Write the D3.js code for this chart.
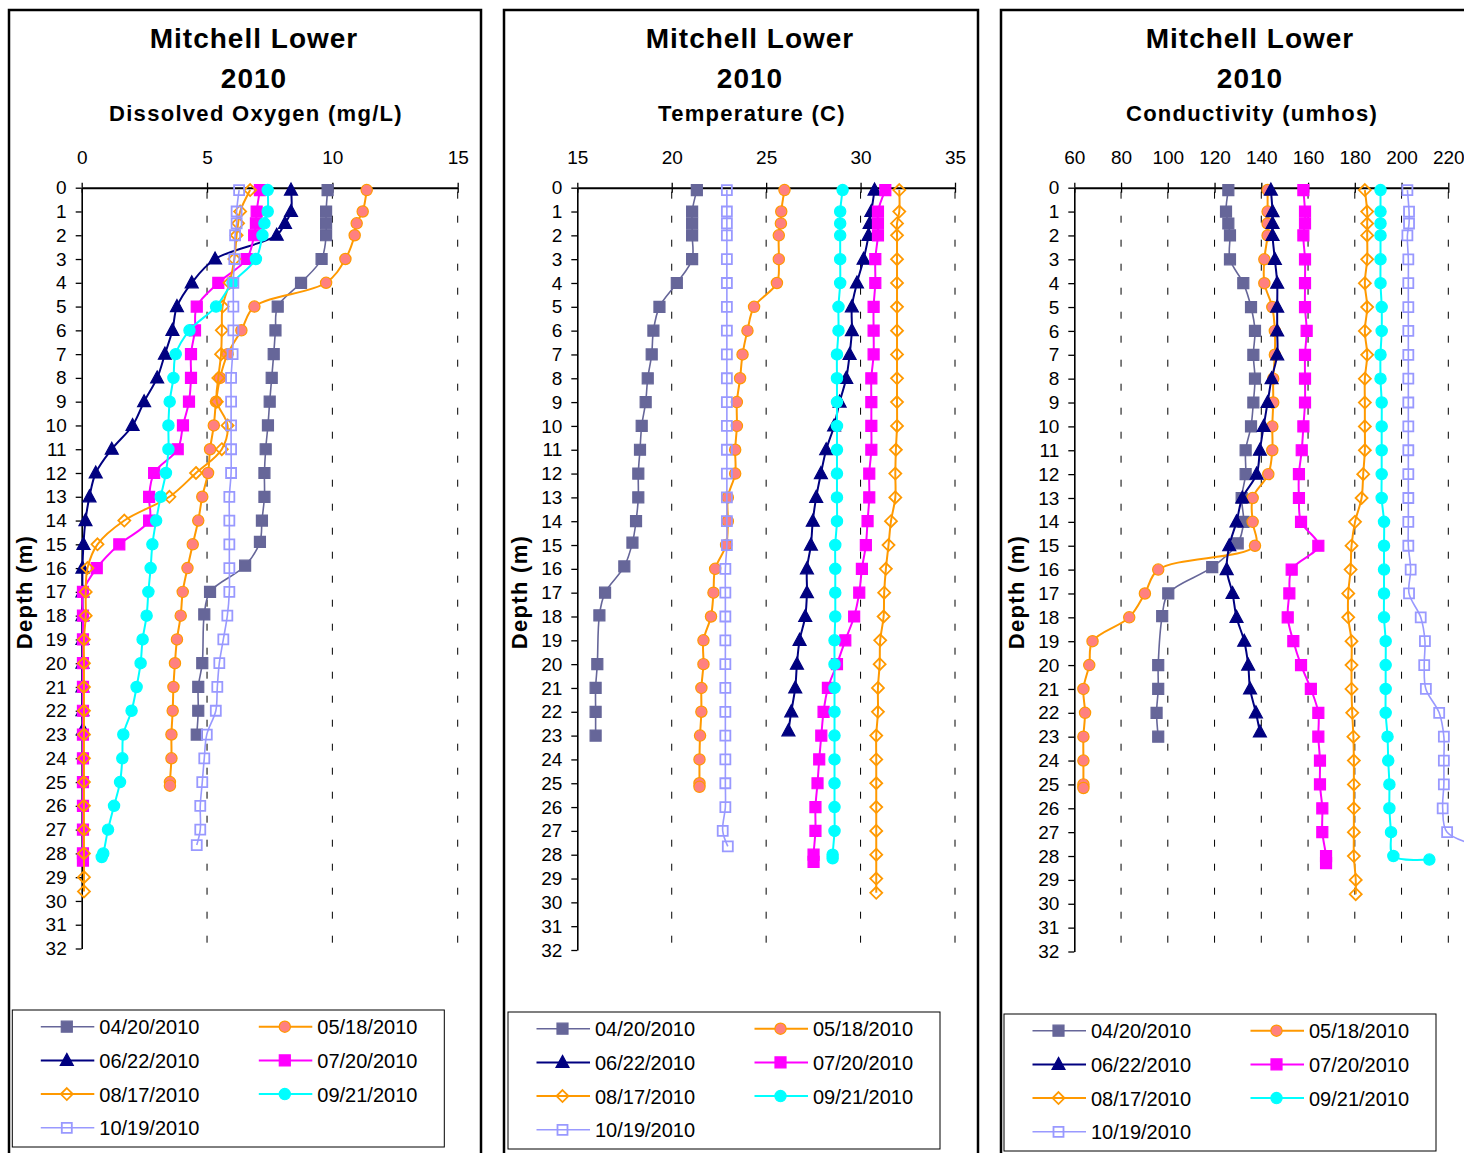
<!DOCTYPE html>
<html>
<head>
<meta charset="utf-8">
<title>Mitchell Lower 2010 profiles</title>
<script src="https://d3js.org/d3.v7.min.js"></script>
<style>
body { margin: 0; background: #fff; }
svg { display: block; font-family: "Liberation Sans", Arial, sans-serif; }
.title { font-weight: bold; font-size: 28px; letter-spacing: 1px; text-anchor: middle; }
.subtitle { font-weight: bold; font-size: 22px; letter-spacing: 1.3px; text-anchor: middle; }
.tick text { font-size: 19px; font-family: "Liberation Sans", Arial, sans-serif; }
.legend text { font-size: 20px; }
</style>
</head>
<body>
<script>
// sampling dates (one profile each)
var dates = ["04/20/2010", "05/18/2010", "06/22/2010", "07/20/2010", "08/17/2010", "09/21/2010", "10/19/2010"];

// depths (m) of each profile
var depth0420 = [0.1,1,1.5,2,3,4,5,6,7,8,9,10,11,12,13,14,14.9,15.9,17,17.95,20,21,22,23];
var depth0518 = [0.1,1,1.5,2,3,4,5,6,7,8,9,10,11,12,13,14,15,16,17,18,19,20,21,22,23,24,25,25.15];
var depth0622 = [0.1,1,1.5,2,3,4,5,6,7,8,9,10,11,12,13,14,15,16,17,18,19,20,21,22,22.8];
var depth0720 = [0.1,1,1.5,2,3,4,5,6,7,8,9,10,11,12,13,14,15,16,17,18,19,20,21,22,23,24,25,26,27,28,28.3];
var depth0817 = [0.1,1,1.5,2,3,4,5,6,7,8,9,10,11,12,13,14,15,16,17,18,19,20,21,22,23,24,25,26,27,28,29,29.6];
var depth0921 = [0.1,1,1.5,2,3,4,5,6,7,8,9,10,11,12,13,14,15,16,17,18,19,20,21,22,23,24,25,26,27,28,28.15];
var depth1019 = [0.1,1,1.5,2,3,4,5,6,7,8,9,10,11,12,13,14,15,16,17,18,19,20,21,22,23,24,25,26,27,27.65];
var depths = [depth0420, depth0518, depth0622, depth0720, depth0817, depth0921, depth1019];

// dissolved oxygen (mg/L)
var oxygen = [
  [9.81,9.75,9.75,9.75,9.57,8.75,7.82,7.73,7.66,7.58,7.5,7.43,7.34,7.29,7.29,7.19,7.11,6.52,5.12,4.89,4.81,4.65,4.65,4.59],
  [11.37,11.21,10.97,10.89,10.52,9.75,6.89,6.37,5.82,5.52,5.36,5.27,5.12,5.04,4.81,4.65,4.43,4.22,4.03,3.95,3.8,3.72,3.66,3.63,3.58,3.58,3.52,3.52],
  [8.35,8.35,8.11,7.78,5.32,4.39,3.8,3.62,3.32,3.01,2.49,2.03,1.2,0.56,0.31,0.15,0.07,0.03,0.03,0.03,0.03,0.03,0.03,0.03,0.05],
  [7.11,6.98,6.95,6.88,6.58,5.45,4.59,4.52,4.36,4.36,4.28,4.04,3.83,2.89,2.69,2.69,1.5,0.6,0.05,0.05,0.05,0.05,0.05,0.05,0.05,0.05,0.05,0.05,0.05,0.05,0.05],
  [6.72,6.32,6.24,6.18,6.09,5.9,5.62,5.59,5.56,5.45,5.39,5.82,5.59,4.56,3.5,1.7,0.63,0.23,0.16,0.16,0.09,0.09,0.09,0.09,0.09,0.09,0.09,0.09,0.09,0.09,0.09,0.09],
  [7.42,7.42,7.29,7.21,6.95,6.02,5.36,4.3,3.75,3.66,3.51,3.46,3.46,3.36,3.15,2.97,2.82,2.75,2.66,2.59,2.43,2.35,2.19,1.99,1.66,1.62,1.53,1.29,1.05,0.86,0.8],
  [6.28,6.18,6.18,6.12,6.09,6.05,6.05,6.05,6.02,5.96,5.96,5.96,5.96,5.96,5.89,5.89,5.89,5.89,5.89,5.81,5.65,5.49,5.41,5.35,4.99,4.89,4.81,4.73,4.73,4.59]
];

// temperature (C)
var temperature = [
  [21.33,21.08,21.08,21.08,21.08,20.27,19.35,19.03,18.94,18.73,18.62,18.41,18.32,18.23,18.23,18.11,17.92,17.49,16.47,16.17,16.06,15.97,15.97,15.97],
  [25.97,25.8,25.78,25.67,25.67,25.57,24.36,24.01,23.75,23.62,23.45,23.45,23.36,23.36,22.97,22.97,22.88,22.3,22.21,22.08,21.68,21.68,21.57,21.57,21.5,21.47,21.47,21.47],
  [30.74,30.57,30.48,30.42,30.16,29.81,29.54,29.54,29.42,29.24,28.89,28.6,28.18,27.9,27.65,27.47,27.37,27.16,27.16,27.07,26.77,26.63,26.54,26.33,26.18],
  [31.31,30.92,30.92,30.92,30.78,30.78,30.69,30.69,30.69,30.57,30.57,30.57,30.57,30.46,30.46,30.37,30.28,30.07,29.93,29.66,29.19,28.75,28.27,28.04,27.92,27.81,27.72,27.61,27.61,27.51,27.51],
  [32.05,32.05,31.93,31.93,31.93,31.93,31.93,31.93,31.93,31.93,31.93,31.93,31.87,31.84,31.84,31.61,31.48,31.34,31.25,31.22,31.04,31.01,30.92,30.92,30.83,30.83,30.83,30.83,30.83,30.83,30.83,30.83],
  [29.05,28.92,28.92,28.92,28.92,28.92,28.83,28.83,28.75,28.75,28.75,28.75,28.75,28.75,28.75,28.75,28.66,28.66,28.66,28.66,28.62,28.62,28.62,28.62,28.62,28.62,28.62,28.62,28.62,28.52,28.52],
  [22.92,22.92,22.92,22.92,22.92,22.92,22.92,22.92,22.92,22.92,22.92,22.92,22.92,22.92,22.92,22.92,22.92,22.84,22.84,22.84,22.84,22.84,22.84,22.84,22.84,22.84,22.84,22.84,22.7,22.97]
];

// conductivity (umhos)
var conductivity = [
  [125.9,124.9,125.9,126.6,126.6,132.3,135.6,137.3,136.6,137.3,136.6,135.6,133.3,133.3,131.6,132.4,129.9,119.0,100.2,97.6,95.9,95.9,95.2,95.9],
  [142.7,142.7,142.7,142.7,141.3,141.3,144.7,145.8,145.8,145.1,145.1,144.7,144.7,143.0,136.3,136.3,137.3,95.9,90.2,83.5,67.8,66.4,63.9,64.6,63.9,63.9,63.9,63.9],
  [144.1,144.8,144.8,144.8,145.8,146.8,146.8,146.8,146.8,144.4,142.7,141.0,139.4,138.0,131.9,129.4,126.3,125.2,127.7,129.4,132.7,134.4,135.2,137.7,139.4],
  [158.0,158.7,158.7,158.0,158.7,158.7,158.7,159.4,158.7,158.7,158.7,158.0,157.3,156.1,156.1,157.0,164.4,153.0,152.0,151.3,153.7,157.0,161.2,164.4,164.4,165.1,165.1,166.1,166.1,167.7,167.7],
  [184.3,185.3,185.3,185.3,185.3,184.3,185.3,184.3,185.3,184.3,184.3,184.3,184.3,183.6,182.9,180.1,178.6,178.2,177.2,177.2,178.6,178.6,178.6,178.9,179.4,179.6,179.6,179.6,179.6,179.6,180.4,180.4],
  [191.0,191.0,191.0,191.0,191.0,191.0,191.5,191.5,191.0,191.0,191.5,191.5,191.5,191.5,191.5,192.5,192.5,192.5,192.5,192.5,193.2,193.2,193.2,193.2,194.0,194.3,194.8,194.8,195.5,196.5,211.9],
  [202.5,203.2,203.2,202.5,202.9,202.9,202.9,202.9,202.9,202.9,202.9,202.9,202.9,202.9,202.9,202.9,202.9,203.9,203.2,208.2,210.0,209.7,210.4,216.1,218.1,218.1,218.1,217.6,219.5,236]
];

// tick labels
var depthTicks = [0,1,2,3,4,5,6,7,8,9,10,11,12,13,14,15,16,17,18,19,20,21,22,23,24,25,26,27,28,29,30,31,32];
var oxygenTicks = [0, 5, 10, 15];
var temperatureTicks = [15, 20, 25, 30, 35];
var conductivityTicks = [60, 80, 100, 120, 140, 160, 180, 200, 220];

// series styles
var lineColors = ["#666699", "#FF9900", "#000080", "#FF00FF", "#FF9900", "#00FFFF", "#9999FF"];
var markerFills = ["#666699", "#FF8080", "#000080", "#FF00FF", "none", "#00FFFF", "none"];
var markerShapes = ["square", "circle", "triangle", "square", "diamond", "circle", "open"];
var lineWidths = [1.6, 2, 2, 2, 2, 2, 1.6];

var panels = [
  {frame: [9, 481], cx: 254, sub: "Dissolved Oxygen (mg/L)", values: oxygen, ticks: oxygenTicks,
   left: 81.7, right: 457.7, bottom: 948.5, legendX: 12.3, legendY: 1010, labelX: 32},
  {frame: [504, 978], cx: 750, sub: "Temperature (C)", values: temperature, ticks: temperatureTicks,
   left: 577.3, right: 955, bottom: 950, legendX: 508, legendY: 1012, labelX: 527},
  {frame: [1001, 1520], cx: 1250, sub: "Conductivity (umhos)", values: conductivity, ticks: conductivityTicks,
   left: 1074.3, right: 1448.3, bottom: 951.5, legendX: 1004, legendY: 1014, labelX: 1024}
];

var svg = d3.select("body").append("svg")
    .attr("width", 1464)
    .attr("height", 1153);

svg.append("rect").attr("width", 1464).attr("height", 1153).attr("fill", "#fff");

markerPath = function(shape) {
  if (shape == "square") return "M-5.5,-5.5H5.5V5.5H-5.5Z";
  if (shape == "open") return "M-5,-5H5V5H-5Z";
  if (shape == "circle") return d3.symbol(d3.symbolCircle, 100)();
  if (shape == "triangle") return "M0,-7L6.5,5L-6.5,5Z";
  if (shape == "diamond") return "M0,-6L6,0L0,6L-6,0Z";
}

drawMarker = function(sel, i) {
  return sel.append("path")
    .attr("d", markerPath(markerShapes[i]))
    .attr("fill", markerFills[i])
    .attr("stroke", lineColors[i])
    .attr("stroke-width", markerFills[i] == "none" ? 1.8 : 1.2);
}

drawPanel = function(p) {
  var g = svg.append("g");

  g.append("rect")
    .attr("x", p.frame[0]).attr("y", 10)
    .attr("width", p.frame[1] - p.frame[0]).attr("height", 1200)
    .attr("fill", "none").attr("stroke", "#000").attr("stroke-width", 2.5);

  g.append("text").attr("class", "title").attr("x", p.cx).attr("y", 48).text("Mitchell Lower");
  g.append("text").attr("class", "title").attr("x", p.cx).attr("y", 88).text("2010");
  g.append("text").attr("class", "subtitle").attr("x", p.cx + 2).attr("y", 121).text(p.sub);

  var x = d3.scaleLinear().domain([p.ticks[0], p.ticks[p.ticks.length - 1]]).range([p.left, p.right]);
  var y = d3.scaleLinear().domain([0, 32]).range([187.7, p.bottom]);

  // dashed gridlines
  g.selectAll(".grid").data(p.ticks.slice(1)).join("line")
    .attr("x1", d => x(d)).attr("x2", d => x(d))
    .attr("y1", y(0)).attr("y2", y(32))
    .attr("stroke", "#000").attr("stroke-width", 1)
    .attr("stroke-dasharray", "7,17").attr("stroke-dashoffset", -4);

  var ya = g.append("g")
    .attr("transform", "translate(" + p.left + ",0)")
    .call(d3.axisLeft(y).tickValues(depthTicks).tickSize(6).tickSizeOuter(0).tickPadding(9));
  ya.select(".domain").attr("stroke-width", 1.6);
  ya.selectAll(".tick line").attr("stroke-width", 1.3);
  ya.selectAll(".tick text").attr("fill", "#000");

  var xa = g.append("g")
    .attr("transform", "translate(0," + y(0) + ")")
    .call(d3.axisTop(x).tickValues(p.ticks).tickSize(5).tickSizeOuter(0).tickPadding(19));
  xa.selectAll(".tick line").attr("stroke-width", 1.3).clone().attr("y2", 5);
  xa.select(".domain").attr("stroke-width", 2);
  xa.selectAll(".tick text").attr("fill", "#000");

  g.append("text")
    .attr("transform", "translate(" + p.labelX + ",592) rotate(-90)")
    .attr("text-anchor", "middle")
    .attr("font-weight", "bold").attr("font-size", 22).attr("letter-spacing", 1.3)
    .text("Depth (m)");

  var line = d3.line()
    .x(d => x(d.v)).y(d => y(d.depth))
    .curve(d3.curveCatmullRom.alpha(0.5));

  dates.forEach(function(date, i) {
    var pts = depths[i].map((dp, j) => ({depth: dp, v: p.values[i][j]}));
    var s = g.append("g");
    s.append("path").datum(pts)
      .attr("d", line)
      .attr("fill", "none")
      .attr("stroke", lineColors[i])
      .attr("stroke-width", lineWidths[i]);
    pts.forEach(function(pt) {
      drawMarker(s.append("g").attr("transform", "translate(" + x(pt.v) + "," + y(pt.depth) + ")"), i);
    });
  });

  // legend
  var lg = g.append("g").attr("class", "legend").attr("transform", "translate(" + p.legendX + "," + p.legendY + ")");
  lg.append("rect").attr("width", 432).attr("height", 137)
    .attr("fill", "#fff").attr("stroke", "#000").attr("stroke-width", 1);
  dates.forEach(function(date, i) {
    var cx = i % 2 == 0 ? 0 : 218,
        cy = 16.7 + Math.floor(i / 2) * 33.7;
    var e = lg.append("g").attr("transform", "translate(" + cx + "," + cy + ")");
    e.append("line").attr("x1", 28.5).attr("x2", 82).attr("y1", 0).attr("y2", 0)
      .attr("stroke", lineColors[i]).attr("stroke-width", lineWidths[i]);
    drawMarker(e.append("g").attr("transform", "translate(54.5,0)"), i);
    e.append("text").attr("x", 87).attr("y", 7.5).text(date);
  });
}

panels.forEach(drawPanel);
</script>
</body>
</html>
